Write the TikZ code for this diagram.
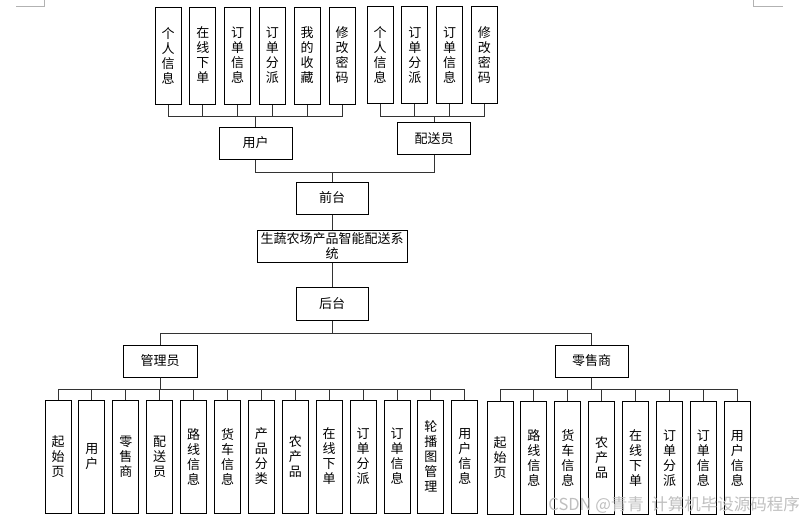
\documentclass[tikz,border=0pt]{standalone}
\usepackage{fontspec}
\setmainfont{Noto Sans CJK SC}
\begin{document}
\begin{tikzpicture}[x=1pt,y=-1pt,
  box/.style={draw=black,line width=1pt,fill=white,inner sep=0pt,align=center,font=\fontsize{13}{15}\selectfont},
  vbox/.style={box,minimum width=26pt},
  topv/.style={vbox,minimum height=97pt},
  botv/.style={vbox,minimum height=113pt},
  hbox/.style={box,minimum width=73pt,minimum height=32pt},
  conn/.style={draw=black!80,line width=0.9pt},
  cornermark/.style={draw=black!30,line width=0.8pt}]
\useasboundingbox (0,0) rectangle (805,522);
% page corner marks
\draw[cornermark] (16,6) -- (44,6) -- (44,0);
\draw[cornermark] (753,0) -- (753,6) -- (783,6);
% top level
\node[hbox] (user) at (255.5,143) {用户};
\node[hbox] (deliv) at (434,138.5) {配送员};
\node[hbox,minimum width=72pt] (front) at (332,198) {前台};
\node[box,minimum width=150pt,minimum height=32pt] (sys) at (332,246) {生蔬农场产品智能配送系\\统};
\node[hbox,minimum width=72pt,minimum height=33pt] (back) at (332,303.5) {后台};
\node[hbox,minimum width=74pt] (admin) at (160,361) {管理员};
\node[hbox] (retail) at (591.5,361) {零售商};
% user children
\foreach \t [count=\i from 0] in {个\\人\\信\\息, 在\\线\\下\\单, 订\\单\\信\\息, 订\\单\\分\\派, 我\\的\\收\\藏, 修\\改\\密\\码}
  \node[topv] (u\i) at ({168+34.8*\i},55.5) {\t};
\foreach \t [count=\i from 0] in {个\\人\\信\\息, 订\\单\\分\\派, 订\\单\\信\\息, 修\\改\\密\\码}
  \node[topv] (d\i) at ({380+34.8*\i},55) {\t};
% admin children
\foreach \t [count=\i from 0] in {起\\始\\页, 用\\户, 零\\售\\商, 配\\送\\员, 路\\线\\信\\息, 货\\车\\信\\息, 产\\品\\分\\类, 农\\产\\品, 在\\线\\下\\单, 订\\单\\分\\派, 订\\单\\信\\息, 轮\\播\\图\\管\\理, 用\\户\\信\\息}
  \node[botv] (a\i) at ({58+33.9*\i},456.5) {\t};
\foreach \t [count=\i from 0] in {起\\始\\页, 路\\线\\信\\息, 货\\车\\信\\息, 农\\产\\品, 在\\线\\下\\单, 订\\单\\分\\派, 订\\单\\信\\息, 用\\户\\信\\息}
  \node[botv] (r\i) at ({500+33.9*\i},458) {\t};
% bus coordinates
\coordinate (ubus) at (0,116);
\coordinate (fbus) at (0,172);
\coordinate (bbus) at (0,333);
\coordinate (lbus) at (0,389);
% connectors
\foreach \i in {0,...,5} \draw[conn] (user.north) -- (user.north |- ubus) -| (u\i.south);
\foreach \i in {0,...,3} \draw[conn] (deliv.north) -- (deliv.north |- ubus) -| (d\i.south);
\draw[conn] (front.north) -- (front.north |- fbus) -| (user.south);
\draw[conn] (front.north) -- (front.north |- fbus) -| (deliv.south);
\draw[conn] (front.south) -- (sys.north);
\draw[conn] (sys.south) -- (back.north);
\draw[conn] (back.south) -- (back.south |- bbus) -| (admin.north);
\draw[conn] (back.south) -- (back.south |- bbus) -| (retail.north);
\foreach \i in {0,...,12} \draw[conn] (admin.south) -- (admin.south |- lbus) -| (a\i.north);
\foreach \i in {0,...,7} \draw[conn] (retail.south) -- (retail.south |- lbus) -| (r\i.north);
% watermark
\node[text=black!25,font=\fontsize{16.5}{16.5}\selectfont,inner sep=0pt,anchor=east] (wm) at (800,505) {CSDN @青青 \ 计算机毕设源码程序};
\end{tikzpicture}
\end{document}
